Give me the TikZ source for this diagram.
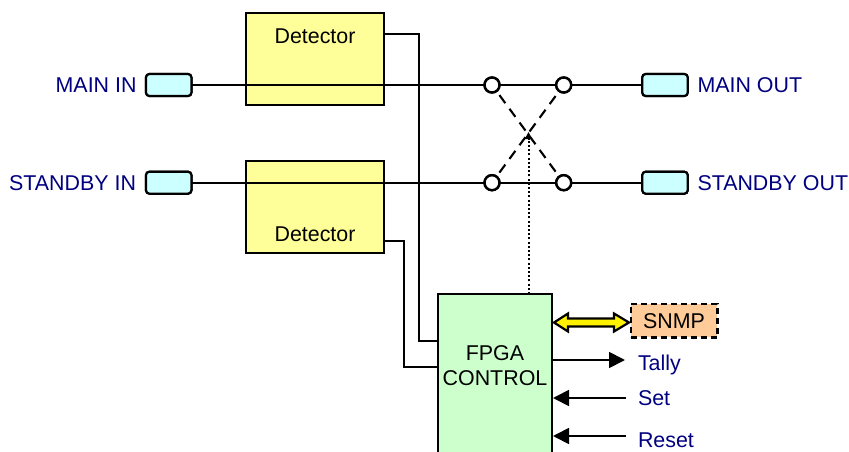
\documentclass[tikz,border=0pt]{standalone}
\usepackage{fontspec}
\setmainfont{Liberation Sans}
\usetikzlibrary{arrows.meta}
\definecolor{lbl}{RGB}{0,0,128}
\definecolor{detfill}{RGB}{255,255,153}
\definecolor{portfill}{RGB}{204,255,255}
\definecolor{fpgafill}{RGB}{204,255,204}
\definecolor{snmpfill}{RGB}{255,204,153}
\tikzset{
  base/.style={inner sep=0pt,outer sep=0pt,font=\fontsize{21.4}{25}\selectfont},
  lbltext/.style={base,text=lbl},
  blacktext/.style={base,text=black,align=center},
  detbox/.style={base,draw=black,line width=2.2pt,fill=detfill,minimum width=138.5pt,minimum height=92pt},
  portbox/.style={base,draw=black,line width=2.2pt,fill=portfill,rounded corners=3.5pt,minimum width=45.5pt,minimum height=22pt},
  sw/.style={base,circle,draw=black,line width=2.4pt,fill=white,minimum size=15pt},
  sig/.style={draw=black,line width=2.6pt},
  sigb/.style={draw=black,line width=2.1pt},
  ctl/.style={draw=black,line width=2pt},
  xdash/.style={draw=black,line width=2.1pt,dash pattern=on 10pt off 7pt,shorten <=5pt,shorten >=5pt},
  tipped/.style={draw=black,line width=1.8pt,-{Triangle[length=16pt,width=16pt]}},
}
\begin{document}
\begin{tikzpicture}[x=1pt,y=-1pt]
\useasboundingbox (0,0) rectangle (849,452);
\clip (0,0) rectangle (849,452);
% boxes
\node[detbox] (d1) at (315,59) {};
\node[detbox] (d2) at (315,207) {};
\node[base,draw=black,line width=2.2pt,fill=fpgafill,minimum width=114pt,minimum height=206pt] (fpga) at (495,397) {};
\node[base,draw=black,line width=2.2pt,dash pattern=on 6pt off 4pt,fill=snmpfill,minimum width=86.5pt,minimum height=33.5pt] (snmp) at (674.2,320.7) {};
\node[portbox] (pi1) at (168.7,85) {};
\node[portbox] (pi2) at (168.7,182.7) {};
\node[portbox] (po1) at (665,85) {};
\node[portbox] (po2) at (665,182.7) {};
\node[sw] (c1) at (492,85) {};
\node[sw] (c2) at (563.7,85) {};
\node[sw] (c3) at (492,182.7) {};
\node[sw] (c4) at (563.7,182.7) {};
\coordinate (xm) at (528.5,132);
\coordinate (ftop) at (528.5,294);
\coordinate (d1o) at (384,34.5);
\coordinate (d2o) at (384,241);
\coordinate (f1) at (438,341);
\coordinate (f2) at (438,367);
\coordinate (k1) at (419,34.5);
\coordinate (k2) at (419,341);
\coordinate (k3) at (404,241);
\coordinate (k4) at (404,367);
\coordinate (ta) at (552,360);
\coordinate (tb) at (625,360);
\coordinate (sa) at (626,398);
\coordinate (sb) at (553,398);
\coordinate (ra) at (626,436);
\coordinate (rb) at (553,436);
% signal lines
\draw[sig] (pi1) -- (c1);
\draw[sig] (c1) -- (c2);
\draw[sig] (c2) -- (po1);
\draw[sigb] (pi2) -- (c3);
\draw[sigb] (c3) -- (c4);
\draw[sigb] (c4) -- (po2);
\node[sw] at (c1) {};
\node[sw] at (c2) {};
\node[sw] at (c3) {};
\node[sw] at (c4) {};
\node[portbox] at (pi1) {};
\node[portbox] at (pi2) {};
\node[portbox] at (po1) {};
\node[portbox] at (po2) {};
% crossover
\draw[xdash] (c1) -- (c4);
\draw[xdash] (c3) -- (c2);
\draw[draw=black,line width=2pt,dash pattern=on 2pt off 2.2pt,-{Triangle[length=7pt,width=7pt]}] (ftop) -- (xm);
% control lines
\draw[ctl] (d1o) -- (k1) -- (k2) -- (f1);
\draw[ctl] (d2o) -- (k3) -- (k4) -- (f2);
\draw[tipped] (ta) -- (tb);
\draw[tipped] (sa) -- (sb);
\draw[tipped] (ra) -- (rb);
% double arrow
\draw[draw=black,line width=2.2pt,fill=yellow,line join=miter]
  (554,322.5) -- (568,313.5) -- (568,318.5) -- (614,318.5) -- (614,313.5) -- (629,322.5)
  -- (614,331.5) -- (614,326.5) -- (568,326.5) -- (568,331.5) -- cycle;
% texts
\node[blacktext] (t1) at (315,36) {Detector};
\node[blacktext] (t2) at (315,234) {Detector};
\node[blacktext] (t3) at (495,366) {FPGA\\CONTROL};
\node[blacktext] (t4) at (674,321) {SNMP};
\node[lbltext,anchor=east] (l1) at (136.5,85.5) {MAIN IN};
\node[lbltext,anchor=east] (l2) at (136,183.5) {STANDBY IN};
\node[lbltext,anchor=west] (l3) at (697.5,85.5) {MAIN OUT};
\node[lbltext,anchor=west] (l4) at (697.5,183.5) {STANDBY OUT};
\node[lbltext,anchor=west] (l5) at (638,364.5) {Tally};
\node[lbltext,anchor=west] (l6) at (638,398) {Set};
\node[lbltext,anchor=west] (l7) at (638,440) {Reset};
\end{tikzpicture}
\end{document}
